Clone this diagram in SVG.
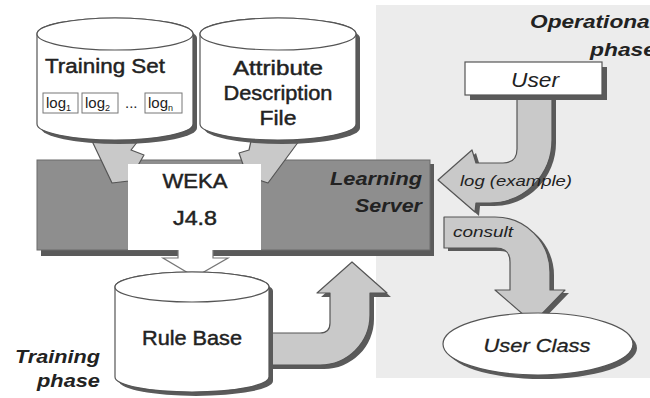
<svg xmlns="http://www.w3.org/2000/svg" width="650" height="398" viewBox="0 0 650 398">
<style>
text{font-family:"Liberation Sans",Arial,Helvetica,sans-serif;fill:#222}
.lbl{font-size:20px;stroke:#222;stroke-width:0.45}
.it{font-style:italic}
.bi{font-style:italic;font-weight:bold}
.sh{fill:#5a5a5a}
.cyl{fill:#fff;stroke:#555;stroke-width:1.2}
.arr{fill:#c9c9c9;stroke:#555;stroke-width:1.2;stroke-linejoin:round}
.logbox{fill:#fff;stroke:#777;stroke-width:1}
.small{font-size:15px}
</style>
<rect width="650" height="398" fill="#fff"/>
<rect x="376" y="5" width="274" height="373" fill="#ececec"/>

<g id="learning-server">
<rect x="41" y="164" width="393" height="92" class="sh"/>
<rect x="37" y="160" width="393" height="90" fill="#8e8e8e" stroke="#6a6a6a" stroke-width="1"/>
<text class="bi" x="422" y="185" text-anchor="end" textLength="92" lengthAdjust="spacingAndGlyphs" font-size="19">Learning</text>
<text class="bi" x="422" y="212" text-anchor="end" textLength="67" lengthAdjust="spacingAndGlyphs" font-size="19">Server</text>
</g>

<g id="connectors">
<path class="arr" d="M92,141 L138,141 L131,150 L144,155 L129,181 L112,183 Z"/>
<path class="arr" d="M299,141 L251,141 L249,150 L239,153 L247,176 L268,183 Z"/>
<path d="M178,249 L178,258 L163,258 L195,277 L228,258 L213,258 L213,249 Z" fill="#fff" stroke="#777" stroke-width="1.2"/>
<rect x="179" y="246" width="33" height="10" fill="#fff"/>
<path class="sh" d="M264,337 L324,337 Q334,337 334,327 L334,297 L321,297 L356,266 L391,297 L374,297 L374,319 A50 50 0 0 1 324,369 L264,369 Z"/>
<path class="arr" d="M260,333 L320,333 Q330,333 330,323 L330,293 L317,293 L352,262 L387,293 L370,293 L370,315 A50 50 0 0 1 320,365 L260,365 Z"/>
<path class="sh" d="M521,98 L556,98 L556,143 A62 63 0 0 1 494,206 L480,206 L479,216 L442,183 L476,153 L480,166 L507,166 Q521,166 521,152 Z"/>
<path class="arr" d="M517,95 L552,95 L552,140 A62 63 0 0 1 490,203 L476,203 L475,212 L438,180 L472,150 L476,163 L503,163 Q517,163 517,149 Z"/>
<text class="it" x="460" y="186" font-size="15" textLength="112" lengthAdjust="spacingAndGlyphs">log (example)</text>
<path class="sh" d="M448,220 L499,220 A55 55 0 0 1 554,275 L554,293 L569,293 L537,326 L499,293 L514,293 L514,265 Q514,251 500,251 L448,251 Z"/>
<path class="arr" d="M444,217 L495,217 A55 55 0 0 1 550,272 L550,290 L565,290 L533,323 L495,290 L510,290 L510,262 Q510,248 496,248 L444,248 Z"/>
<text class="it" x="453" y="237" font-size="15" textLength="60" lengthAdjust="spacingAndGlyphs">consult</text>
</g>

<g id="training-set">
<path class="sh" d="M41,38 L41,128 A78 16 0 0 0 197,128 L197,38 A78 16 0 0 0 41,38 Z"/>
<path class="cyl" d="M37,34 L37,124 A78 16 0 0 0 193,124 L193,34 A78 16 0 0 0 37,34 Z"/>
<ellipse class="cyl" cx="115" cy="34" rx="78" ry="16"/>
<text class="lbl" x="45" y="73" textLength="120" lengthAdjust="spacingAndGlyphs">Training Set</text>
<rect class="logbox" x="43" y="93" width="35" height="20"/>
<rect class="logbox" x="82" y="93" width="36" height="20"/>
<rect class="logbox" x="145" y="93" width="37" height="20"/>
<text class="small" x="46" y="108">log<tspan font-size="9" dy="3">1</tspan></text>
<text class="small" x="85" y="108">log<tspan font-size="9" dy="3">2</tspan></text>
<text class="small" x="125" y="108">...</text>
<text class="small" x="148" y="108">log<tspan font-size="9" dy="3">n</tspan></text>
</g>

<g id="attribute-description-file">
<path class="sh" d="M204,38 L204,128 A78 16 0 0 0 360,128 L360,38 A78 16 0 0 0 204,38 Z"/>
<path class="cyl" d="M200,34 L200,124 A78 16 0 0 0 356,124 L356,34 A78 16 0 0 0 200,34 Z"/>
<ellipse class="cyl" cx="278" cy="34" rx="78" ry="16"/>
<text class="lbl" x="278" y="75" text-anchor="middle" textLength="90" lengthAdjust="spacingAndGlyphs">Attribute</text>
<text class="lbl" x="278" y="100" text-anchor="middle" textLength="109" lengthAdjust="spacingAndGlyphs">Description</text>
<text class="lbl" x="278" y="125" text-anchor="middle" textLength="37" lengthAdjust="spacingAndGlyphs">File</text>
</g>

<g id="weka">
<rect x="128" y="164" width="133" height="86" fill="#fff"/>
<text class="lbl" x="195" y="188" text-anchor="middle" textLength="65" lengthAdjust="spacingAndGlyphs">WEKA</text>
<text class="lbl" x="195" y="225" text-anchor="middle" textLength="44" lengthAdjust="spacingAndGlyphs">J4.8</text>
</g>

<g id="rule-base">
<path class="sh" d="M119,291 L119,381 A77 15 0 0 0 273,381 L273,291 A77 15 0 0 0 119,291 Z"/>
<path class="cyl" d="M115,287 L115,377 A77 15 0 0 0 269,377 L269,287 A77 15 0 0 0 115,287 Z"/>
<ellipse class="cyl" cx="192" cy="287" rx="77" ry="15"/>
<text class="lbl" x="192" y="345" text-anchor="middle" textLength="100" lengthAdjust="spacingAndGlyphs">Rule Base</text>
</g>

<g id="user">
<rect x="470" y="67" width="137" height="33" class="sh"/>
<rect x="465" y="62" width="137" height="33" fill="#fff" stroke="#555" stroke-width="1.2"/>
<text class="it" x="535" y="87" text-anchor="middle" font-size="20" textLength="48" lengthAdjust="spacingAndGlyphs">User</text>
</g>

<g id="user-class">
<ellipse cx="542" cy="348" rx="95" ry="31" class="sh"/>
<ellipse cx="538" cy="344" rx="95" ry="31" fill="#fff" stroke="#555" stroke-width="1.2"/>
<text class="it" x="537" y="352" text-anchor="middle" font-size="19" textLength="107" lengthAdjust="spacingAndGlyphs" stroke="#222" stroke-width="0.3">User Class</text>
</g>

<g id="phase-labels">
<text class="bi" x="100" y="363" text-anchor="end" font-size="19" textLength="85" lengthAdjust="spacingAndGlyphs">Training</text>
<text class="bi" x="100" y="387" text-anchor="end" font-size="19" textLength="63" lengthAdjust="spacingAndGlyphs">phase</text>
<text class="bi" x="530" y="28" font-size="19" textLength="126" lengthAdjust="spacingAndGlyphs">Operational</text>
<text class="bi" x="656" y="56" text-anchor="end" font-size="19" textLength="66" lengthAdjust="spacingAndGlyphs">phase</text>
</g>
</svg>
